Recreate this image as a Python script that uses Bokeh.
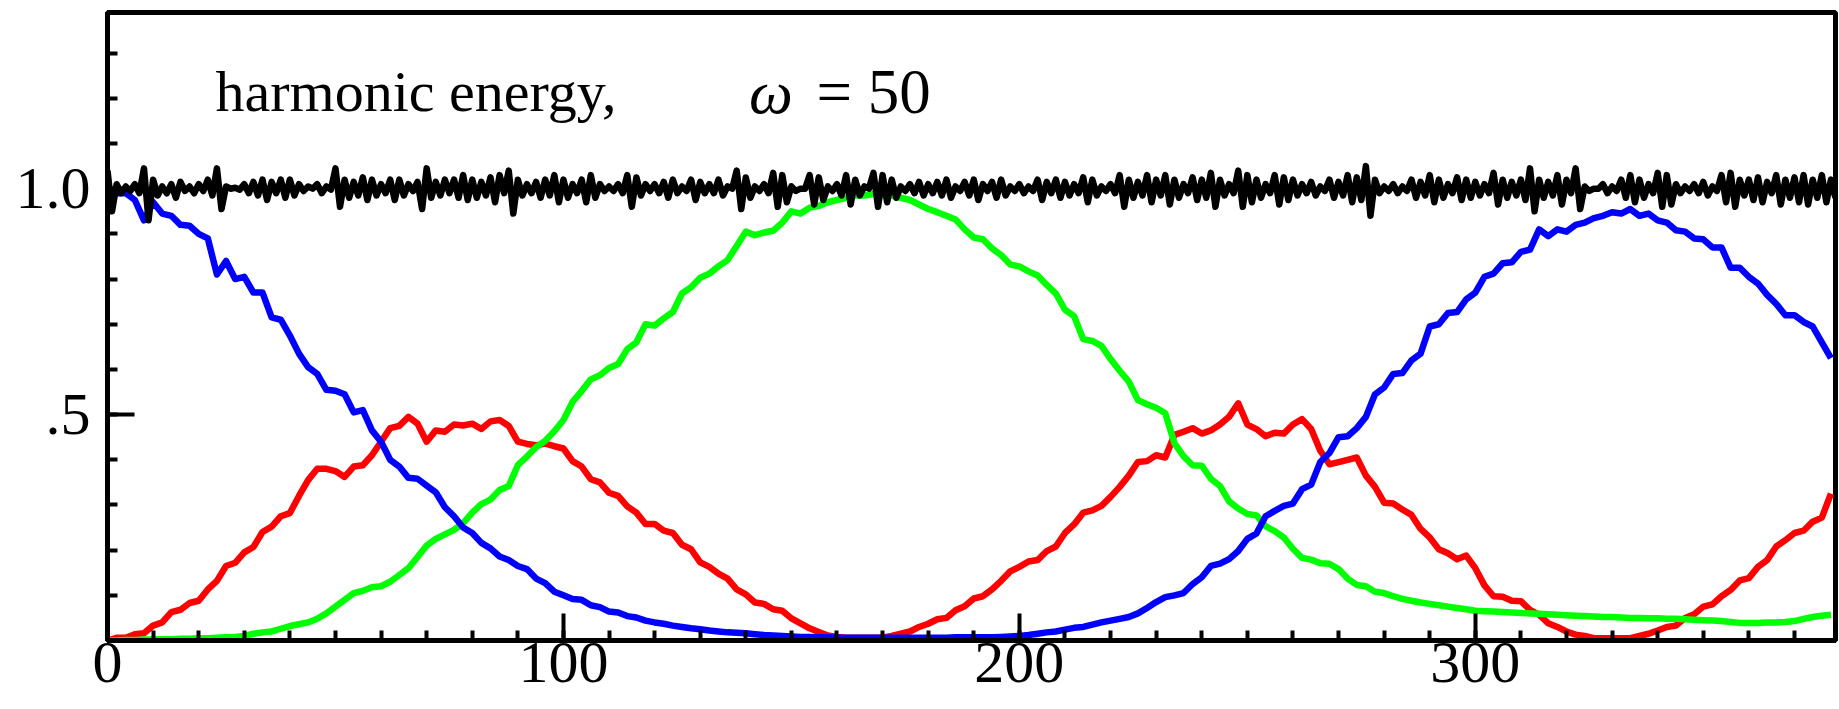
from bokeh.plotting import figure
from bokeh.models import Range1d, FixedTicker, CustomJSTickFormatter, Label
from bokeh.embed import file_html
from bokeh.resources import INLINE

# ---------------- data ----------------
x_black = list(range(0, 380))
black = [
    1.04, 0.95, 1.01, 0.99, 1.005, 0.995, 1.01, 0.99, 1.045, 0.93,
    1.02, 0.985, 1.005, 0.99, 1.01, 0.98, 1.015, 0.995, 1.005, 0.99,
    1.01, 0.995, 1.02, 0.985, 1.045, 0.955, 1.005, 1.0, 1.002, 0.998,
    1.01, 0.99, 1.015, 0.985, 1.02, 0.975, 1.015, 0.99, 1.02, 0.98,
    1.02, 0.985, 1.01, 0.995, 1.005, 1.0, 1.01, 0.99, 1.005, 0.998,
    1.045, 0.96, 1.02, 0.98, 1.015, 0.985, 1.025, 0.975, 1.02, 0.985,
    1.01, 0.99, 1.02, 0.975, 1.02, 0.985, 1.01, 0.995, 1.015, 0.955,
    1.045, 0.98, 1.015, 0.985, 1.02, 0.99, 1.02, 0.98, 1.03, 0.975,
    1.02, 0.98, 1.015, 0.985, 1.025, 0.97, 1.03, 0.99, 1.04, 0.945,
    1.02, 0.985, 1.01, 0.99, 1.015, 0.98, 1.02, 0.985, 1.03, 0.97,
    1.02, 0.98, 1.01, 0.99, 1.02, 0.97, 1.03, 0.98, 1.01, 0.995,
    1.005, 0.995, 1.01, 0.99, 1.03, 0.96, 1.025, 0.985, 1.01, 0.995,
    1.01, 0.99, 1.015, 0.98, 1.02, 0.99, 1.005, 0.995, 1.02, 0.975,
    1.015, 0.99, 1.01, 0.99, 1.02, 0.985, 1.005, 1.0, 1.04, 0.955,
    1.025, 0.98, 1.005, 0.995, 1.01, 0.99, 1.035, 0.96, 1.03, 0.97,
    1.005, 0.995, 1.0, 1.0, 1.03, 0.965, 1.025, 0.975, 1.005, 0.995,
    1.01, 0.985, 1.03, 0.965, 1.02, 0.985, 1.005, 1.0, 1.035, 0.96,
    1.03, 0.97, 1.02, 0.98, 1.005, 0.995, 1.01, 0.99, 1.015, 0.985,
    1.01, 0.99, 1.015, 0.985, 1.02, 0.98, 1.005, 0.995, 1.015, 0.985,
    1.02, 0.975, 1.01, 0.995, 1.015, 0.98, 1.02, 0.985, 1.005, 0.995,
    1.01, 0.99, 1.005, 0.995, 1.02, 0.975, 1.015, 0.99, 1.02, 0.98,
    1.015, 0.985, 1.01, 0.99, 1.025, 0.97, 1.02, 0.985, 1.005, 0.995,
    1.01, 0.99, 1.03, 0.96, 1.02, 0.98, 1.015, 0.985, 1.03, 0.97,
    1.02, 0.985, 1.03, 0.965, 1.02, 0.98, 1.01, 0.99, 1.025, 0.975,
    1.02, 0.98, 1.035, 0.96, 1.02, 0.985, 1.01, 0.99, 1.04, 0.96,
    1.03, 0.97, 1.02, 0.98, 1.01, 0.99, 1.03, 0.965, 1.025, 0.975,
    1.02, 0.985, 1.01, 0.99, 1.015, 0.985, 1.005, 0.995, 1.02, 0.98,
    1.015, 0.985, 1.03, 0.97, 1.025, 0.975, 1.05, 0.94, 1.02, 0.99,
    1.005, 0.995, 1.01, 0.99, 1.005, 0.995, 1.02, 0.98, 1.015, 0.985,
    1.03, 0.97, 1.02, 0.98, 1.01, 0.99, 1.025, 0.975, 1.02, 0.98,
    1.015, 0.985, 1.01, 0.99, 1.035, 0.965, 1.02, 0.98, 1.015, 0.985,
    1.02, 0.975, 1.045, 0.95, 1.02, 0.98, 1.015, 0.985, 1.03, 0.965,
    1.02, 0.99, 1.045, 0.955, 1.005, 0.995, 1.0, 1.0, 1.01, 0.99,
    1.005, 0.995, 1.02, 0.98, 1.03, 0.97, 1.02, 0.98, 1.01, 0.99,
    1.035, 0.96, 1.03, 0.965, 1.01, 0.99, 1.005, 0.995, 1.01, 0.99,
    1.015, 0.985, 1.005, 0.995, 1.03, 0.97, 1.035, 0.96, 1.02, 0.985,
    1.02, 0.975, 1.025, 0.97, 1.015, 0.99, 1.03, 0.965, 1.02, 0.98,
    1.025, 0.97, 1.03, 0.965, 1.02, 0.98, 1.03, 0.97, 1.02, 0.98,
]

x_col = list(range(0, 380, 2))
blue = [
    1.00, 0.99, 0.99, 0.975, 0.93, 0.97, 0.945, 0.94, 0.92, 0.918,
    0.90, 0.89, 0.81, 0.84, 0.80, 0.805, 0.77, 0.77, 0.715, 0.71,
    0.675, 0.635, 0.605, 0.59, 0.555, 0.553, 0.545, 0.505, 0.51, 0.465,
    0.44, 0.40, 0.385, 0.36, 0.358, 0.343, 0.328, 0.295, 0.275, 0.25,
    0.238, 0.216, 0.204, 0.186, 0.178, 0.165, 0.158, 0.137, 0.127, 0.108,
    0.10, 0.092, 0.09, 0.078, 0.074, 0.064, 0.062, 0.054, 0.051, 0.044,
    0.04, 0.037, 0.033, 0.03, 0.027, 0.025, 0.022, 0.02, 0.018, 0.017,
    0.016, 0.014, 0.012, 0.011, 0.01, 0.009, 0.008, 0.008, 0.007, 0.007,
    0.006, 0.006, 0.006, 0.006, 0.006, 0.006, 0.006, 0.006, 0.006, 0.006,
    0.006, 0.006, 0.006, 0.007, 0.007, 0.007, 0.007, 0.007, 0.008, 0.009,
    0.01, 0.012, 0.015, 0.018, 0.02, 0.024, 0.028, 0.03, 0.035, 0.04,
    0.044, 0.048, 0.052, 0.06, 0.072, 0.085, 0.096, 0.10, 0.105, 0.125,
    0.14, 0.165, 0.17, 0.18, 0.198, 0.225, 0.237, 0.275, 0.287, 0.298,
    0.303, 0.335, 0.345, 0.395, 0.415, 0.45, 0.452, 0.47, 0.495, 0.545,
    0.56, 0.59, 0.592, 0.62, 0.635, 0.695, 0.70, 0.725, 0.727, 0.755,
    0.77, 0.805, 0.812, 0.835, 0.837, 0.86, 0.865, 0.91, 0.895, 0.91,
    0.905, 0.92, 0.925, 0.935, 0.94, 0.948, 0.945, 0.955, 0.94, 0.945,
    0.93, 0.925, 0.908, 0.905, 0.89, 0.888, 0.87, 0.87, 0.825, 0.825,
    0.805, 0.79, 0.765, 0.745, 0.72, 0.72, 0.705, 0.695, 0.66, 0.625,
]
red = [
    0.0, 0.006, 0.006, 0.014, 0.016, 0.033, 0.04, 0.063, 0.068, 0.083,
    0.088, 0.113, 0.132, 0.165, 0.172, 0.195, 0.207, 0.24, 0.252, 0.275,
    0.282, 0.32, 0.355, 0.38, 0.38, 0.375, 0.362, 0.385, 0.388, 0.41,
    0.44, 0.47, 0.475, 0.495, 0.48, 0.44, 0.465, 0.462, 0.478, 0.476,
    0.48, 0.468, 0.485, 0.488, 0.475, 0.44, 0.435, 0.432, 0.436, 0.43,
    0.425, 0.397, 0.385, 0.357, 0.35, 0.327, 0.32, 0.297, 0.283, 0.258,
    0.258, 0.243, 0.238, 0.212, 0.202, 0.173, 0.163, 0.148, 0.137, 0.113,
    0.102, 0.084, 0.081, 0.069, 0.066, 0.049, 0.038, 0.027, 0.019, 0.011,
    0.008, 0.006, 0.006, 0.006, 0.006, 0.006, 0.01, 0.015, 0.02, 0.03,
    0.037, 0.047, 0.05, 0.067, 0.076, 0.093, 0.098, 0.113, 0.132, 0.153,
    0.163, 0.175, 0.178, 0.198, 0.208, 0.238, 0.257, 0.283, 0.288, 0.298,
    0.318, 0.34, 0.365, 0.395, 0.397, 0.41, 0.405, 0.455, 0.462, 0.47,
    0.458, 0.465, 0.478, 0.495, 0.525, 0.478, 0.468, 0.452, 0.46, 0.458,
    0.478, 0.49, 0.468, 0.42, 0.39, 0.395, 0.40, 0.405, 0.365, 0.34,
    0.305, 0.303, 0.29, 0.278, 0.247, 0.228, 0.202, 0.193, 0.18, 0.188,
    0.16, 0.122, 0.098, 0.097, 0.088, 0.087, 0.068, 0.057, 0.038, 0.03,
    0.02, 0.013, 0.01, 0.005, 0.005, 0.005, 0.005, 0.005, 0.01, 0.015,
    0.022, 0.03, 0.033, 0.05, 0.058, 0.075, 0.08, 0.098, 0.112, 0.133,
    0.138, 0.163, 0.178, 0.208, 0.222, 0.238, 0.243, 0.263, 0.272, 0.325,
]
green = [
    0.0, 0.0, 0.001, 0.001, 0.002, 0.002, 0.003, 0.003, 0.004, 0.004,
    0.005, 0.005, 0.006, 0.007, 0.008, 0.01, 0.015, 0.018, 0.02, 0.026,
    0.032, 0.036, 0.04, 0.048, 0.06, 0.075, 0.09, 0.105, 0.11, 0.118,
    0.12, 0.13, 0.145, 0.16, 0.185, 0.21, 0.225, 0.235, 0.245, 0.26,
    0.283, 0.302, 0.312, 0.333, 0.342, 0.388, 0.407, 0.428, 0.442, 0.463,
    0.488, 0.528, 0.552, 0.578, 0.587, 0.603, 0.612, 0.645, 0.66, 0.70,
    0.697, 0.713, 0.727, 0.768, 0.782, 0.803, 0.812, 0.828, 0.842, 0.873,
    0.905, 0.897, 0.903, 0.907, 0.925, 0.95, 0.945, 0.958, 0.962, 0.97,
    0.975, 0.98, 0.985, 0.985, 0.988, 0.985, 0.985, 0.98, 0.975, 0.965,
    0.955, 0.948, 0.94, 0.932, 0.91, 0.892, 0.888, 0.868, 0.853, 0.832,
    0.828, 0.817, 0.808, 0.787, 0.768, 0.732, 0.718, 0.667, 0.663, 0.652,
    0.623, 0.597, 0.573, 0.532, 0.523, 0.515, 0.503, 0.437, 0.408, 0.388,
    0.387, 0.358, 0.342, 0.308, 0.292, 0.28, 0.277, 0.253, 0.242, 0.228,
    0.203, 0.183, 0.179, 0.171, 0.17, 0.158, 0.137, 0.123, 0.12, 0.108,
    0.105, 0.098, 0.092, 0.088, 0.084, 0.081, 0.078, 0.075, 0.072, 0.069,
    0.066, 0.065, 0.064, 0.063, 0.062, 0.061, 0.06, 0.059, 0.058, 0.057,
    0.056, 0.055, 0.054, 0.053, 0.052, 0.052, 0.051, 0.05, 0.05, 0.049,
    0.049, 0.048, 0.048, 0.047, 0.046, 0.045, 0.044, 0.043, 0.041, 0.039,
    0.039, 0.039, 0.04, 0.04, 0.041, 0.043, 0.048, 0.052, 0.055, 0.057,
]

x_major = [0, 100, 200, 300]
x_labels = ["0", "100", "200", "300"]
x_minor = list(range(0, 380, 10))
y_major = [0.5, 1.0]
y_labels = [".5", "1.0"]
y_minor = [0.1, 0.2, 0.3, 0.4, 0.5, 0.6, 0.7, 0.8, 0.9, 1.0, 1.1, 1.2, 1.3]

title_text = "harmonic energy,"
omega_text = "ω"
value_text = "= 50"

# ---------------- figure ----------------
FONT = "Liberation Serif"
p = figure(width=1839, height=709, output_backend="svg", toolbar_location=None,
           x_range=Range1d(0, 379), y_range=Range1d(0, 1.39),
           min_border_left=107, min_border_right=4, min_border_top=12,
           min_border_bottom=69)
p.grid.visible = False
p.outline_line_color = "black"
p.outline_line_width = 5
p.background_fill_color = "white"
p.border_fill_color = "white"

for ax in (p.xaxis[0], p.yaxis[0]):
    ax.axis_line_width = 5
    ax.axis_line_color = "black"
    ax.major_tick_line_width = 4
    ax.minor_tick_line_width = 4
    ax.major_tick_in = 27
    ax.major_tick_out = 0
    ax.minor_tick_in = 10
    ax.minor_tick_out = 0
    ax.major_label_text_font = FONT
    ax.major_label_text_font_size = "60px"
    ax.major_label_text_color = "black"

p.xaxis[0].ticker = FixedTicker(ticks=x_major, minor_ticks=x_minor)
p.xaxis[0].formatter = CustomJSTickFormatter(
    args=dict(vals=x_major, labs=x_labels),
    code="const i = vals.indexOf(tick); return i >= 0 ? labs[i] : '';")
p.xaxis[0].major_label_standoff = 2

p.yaxis[0].ticker = FixedTicker(ticks=y_major, minor_ticks=y_minor)
p.yaxis[0].formatter = CustomJSTickFormatter(
    args=dict(vals=y_major, labs=y_labels),
    code="const i = vals.indexOf(tick); return i >= 0 ? labs[i] : '';")
p.yaxis[0].major_label_standoff = 17

LW = 6.5
p.line(x_col, red, line_color="#ff0000", line_width=LW, line_join="round")
p.line(x_col, green, line_color="#00ff00", line_width=LW, line_join="round")
p.line(x_col, blue, line_color="#0000ff", line_width=LW, line_join="round")
p.line(x_black, black, line_color="black", line_width=LW, line_join="round")

TY = 1.215
p.add_layout(Label(x=23.7, y=TY, text=title_text, text_font=FONT,
                   text_font_size="58px", text_color="black",
                   text_baseline="alphabetic"))
p.add_layout(Label(x=140.7, y=TY, text=omega_text, text_font=FONT,
                   text_font_style="italic", text_font_size="62px",
                   text_color="black", text_baseline="alphabetic"))
p.add_layout(Label(x=155.5, y=TY, text=value_text, text_font=FONT,
                   text_font_size="63px", text_color="black",
                   text_baseline="alphabetic"))

open("out.html", "w").write(file_html(p, INLINE))
